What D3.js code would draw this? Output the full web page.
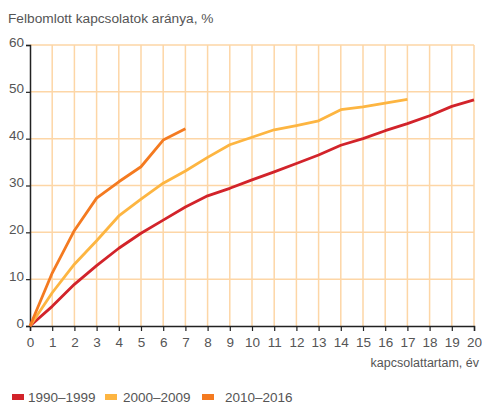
<!DOCTYPE html>
<html>
<head>
<meta charset="utf-8">
<script src="https://cdn.jsdelivr.net/npm/d3@7"></script>
<style>
    body { margin: 0; background: #fff; }
    svg text { font-family: "Liberation Sans Narrow", "Liberation Sans", Arial, sans-serif; fill: #555; }
</style>
</head>
<body>
<div id="chart"></div>
<script>

// years of relationship (x) and share of broken relationships, %
let years = d3.range(0, 21);
let yTicks = [0, 10, 20, 30, 40, 50, 60];

let s1990 = [0, 4.2, 8.9, 12.9, 16.6, 19.8, 22.6, 25.4, 27.8, 29.4, 31.2, 32.9, 34.7, 36.5, 38.6, 40.0, 41.7, 43.2, 44.9, 46.9, 48.3];
let s2000 = [0, 7.1, 13.2, 18.2, 23.5, 27.1, 30.5, 33.1, 36.0, 38.7, 40.3, 41.9, 42.8, 43.8, 46.2, 46.8, 47.6, 48.4];
let s2010 = [0, 11.3, 20.4, 27.3, 30.8, 34.0, 39.7, 42.1];

let seriesNames = ['1990–1999', '2000–2009', '2010–2016'];
let seriesColors = ['#d2232a', '#fdb541', '#f47a20'];

let width = 482,
    height = 403;

let svg = d3.select('#chart').append('svg')
    .attr('width', width)
    .attr('height', height);

let x = d3.scaleLinear().domain([0, 20]).range([30, 474]);
let y = d3.scaleLinear().domain([0, 60]).range([326, 45]);

// grid
let grid = svg.append('g');
grid.selectAll('.vgrid')
    .data(years.filter(function(d) { return d > 0; }))
    .enter().append('line')
    .attr('x1', function(d) { return x(d); })
    .attr('x2', function(d) { return x(d); })
    .attr('y1', y(0))
    .attr('y2', y(60))
    .style('stroke', '#fdd6a6')
    .style('stroke-width', 1.5);
grid.selectAll('.hgrid')
    .data(yTicks.filter(function(d) { return d > 0; }))
    .enter().append('line')
    .attr('x1', x(0))
    .attr('x2', x(20))
    .attr('y1', function(d) { return y(d); })
    .attr('y2', function(d) { return y(d); })
    .style('stroke', '#fdd6a6')
    .style('stroke-width', 1.5);

// axes
let xAxis = svg.append('g')
    .attr('transform', 'translate(0,' + y(0) + ')')
    .call(d3.axisBottom(x).tickValues(years).tickSize(5).tickPadding(6).tickFormat(d3.format('d')));
let yAxis = svg.append('g')
    .attr('transform', 'translate(' + x(0) + ',0)')
    .call(d3.axisLeft(y).tickValues(yTicks).tickSize(4).tickPadding(2));

[xAxis, yAxis].forEach(function(a) {
    a.select('.domain').style('stroke', '#222').style('stroke-width', 1.5);
    a.selectAll('.tick line').style('stroke', '#222').style('stroke-width', 1.2);
    a.selectAll('.tick text').style('fill', '#555');
});
xAxis.selectAll('.tick text').style('font-size', '13.5px').attr('dy', '0.75em');
yAxis.selectAll('.tick text').style('font-size', '13.5px').attr('dy', '0').attr('y', 1);

// lines
let line = d3.line()
    .x(function(d, i) { return x(i); })
    .y(function(d) { return y(d); });

let lines = svg.append('g');
[s1990, s2000, s2010].forEach(function(s, i) {
    lines.append('path')
        .datum(s)
        .attr('d', line)
        .style('fill', 'none')
        .style('stroke', seriesColors[i])
        .style('stroke-width', 2.8)
        .style('stroke-linejoin', 'round');
});

// titles
svg.append('text')
    .attr('x', 8)
    .attr('y', 23)
    .style('font-size', '13.7px')
    .text('Felbomlott kapcsolatok aránya, %');

svg.append('text')
    .attr('x', 479)
    .attr('y', 367)
    .attr('text-anchor', 'end')
    .style('font-size', '12.5px')
    .text('kapcsolattartam, év');

// legend
let legendX = [12, 105, 202];
let legend = svg.append('g').selectAll('g')
    .data(seriesNames)
    .enter().append('g')
    .attr('transform', function(d, i) { return 'translate(' + legendX[i] + ',394)'; });
legend.append('rect')
    .attr('width', 12)
    .attr('height', 6)
    .style('fill', function(d, i) { return seriesColors[i]; });
legend.append('text')
    .attr('x', function(d, i) { return [16, 18, 23][i]; })
    .attr('y', 7.5)
    .style('font-size', '13.5px')
    .text(function(d) { return d; });

</script>
</body>
</html>
